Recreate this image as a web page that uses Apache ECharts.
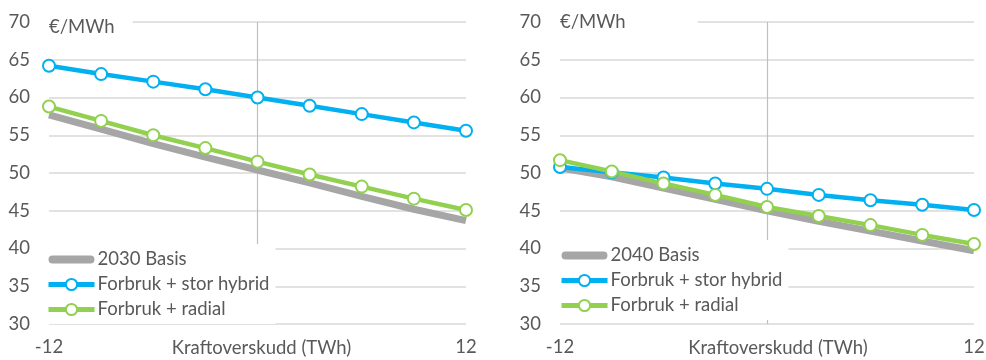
<!DOCTYPE html>
<html>
<head>
<meta charset="utf-8">
<script src="https://cdn.jsdelivr.net/npm/echarts@6/dist/echarts.min.js"></script>
<style>
  html, body { margin: 0; padding: 0; background: #fff; }
  #chart { width: 986px; height: 360px; }
</style>
</head>
<body>
<div id="chart"></div>
<script>
// Kraftoverskudd (TWh) on the x axis, price in €/MWh on the y axis
const surplus = [-12, -9, -6, -3, 0, 3, 6, 9, 12];

const basis2030 = [57.7, 55.8, 53.9, 52.1, 50.4, 48.7, 46.9, 45.2, 43.7];
const hybrid2030 = [64.2, 63.1, 62.1, 61.1, 60.0, 58.9, 57.8, 56.7, 55.6];
const radial2030 = [58.8, 56.9, 55.0, 53.3, 51.5, 49.8, 48.2, 46.6, 45.1];

const basis2040 = [50.7, 49.5, 48.0, 46.5, 45.0, 43.6, 42.3, 41.0, 39.7];
const hybrid2040 = [50.8, 50.1, 49.4, 48.6, 47.9, 47.1, 46.4, 45.8, 45.1];
const radial2040 = [51.7, 50.2, 48.6, 47.1, 45.5, 44.3, 43.1, 41.8, 40.6];

const yTicks = [30, 35, 40, 45, 50, 55, 60, 65, 70];
const xTickLabels = ['-12', '12'];
const unitLabel = '€/MWh';
const xTitle = 'Kraftoverskudd (TWh)';
const names2030 = ['2030 Basis', 'Forbruk + stor hybrid', 'Forbruk + radial'];
const names2040 = ['2040 Basis', 'Forbruk + stor hybrid', 'Forbruk + radial'];

const FONT = 'Lato';
const FS = 18.5;
const TEXT = '#595959';
const GRID = '#D9D9D9';
const GRAY = '#A6A6A6';
const BLUE = '#00B0F0';
const GREEN = '#92D050';

// thick rounded bar used as the legend key of the base-case line
const BAR_ICON = 'path://M0,0h0.01v0.01h-0.01z M0,14h0.01v0.01h-0.01z M4,3 H42 A4,4 0 0 1 42,11 H4 A4,4 0 0 1 4,3 Z';

const pairs = arr => surplus.map((x, i) => [x, arr[i]]);

function xAxisFor(idx, namePad) {
  return {
    gridIndex: idx, type: 'value', min: -12, max: 12, interval: 12,
    axisLine: { show: false }, axisTick: { show: false },
    axisLabel: {
      color: TEXT, fontFamily: FONT, fontSize: FS, margin: 14,
      formatter: v => (v === -12 ? xTickLabels[0] : v === 12 ? xTickLabels[1] : '')
    },
    splitLine: { show: true, showMinLine: false, showMaxLine: false,
                 lineStyle: { color: '#BFBFBF', width: 1.2 } },
    name: xTitle, nameLocation: 'middle', nameGap: 15, nameMoveOverlap: false,
    nameTextStyle: { color: TEXT, fontFamily: FONT, fontSize: FS, padding: namePad,
                     verticalAlign: 'top' }
  };
}

function yAxisFor(idx) {
  return {
    gridIndex: idx, type: 'value', min: yTicks[0], max: yTicks[yTicks.length - 1], interval: 5,
    axisLine: { show: false }, axisTick: { show: false },
    axisLabel: { color: TEXT, fontFamily: FONT, fontSize: FS, margin: 19 },
    splitLine: { show: true, lineStyle: { color: GRID, width: 1.5 } }
  };
}

function seriesFor(idx, names, basis, hybrid, radial) {
  const marker = color => ({
    symbol: 'circle', symbolSize: 12, showSymbol: true,
    itemStyle: { color: '#fff', borderColor: color, borderWidth: 2 }
  });
  return [
    { name: names[0], type: 'line', xAxisIndex: idx, yAxisIndex: idx,
      data: pairs(basis), symbol: 'none', silent: true,
      lineStyle: { color: GRAY, width: 7 }, itemStyle: { color: GRAY } },
    Object.assign({ name: names[1], type: 'line', xAxisIndex: idx, yAxisIndex: idx,
      data: pairs(hybrid), silent: true,
      lineStyle: { color: BLUE, width: 4.5 } }, marker(BLUE)),
    Object.assign({ name: names[2], type: 'line', xAxisIndex: idx, yAxisIndex: idx,
      data: pairs(radial), silent: true,
      lineStyle: { color: GREEN, width: 4.5 } }, marker(GREEN))
  ];
}

function legendFor(left, top, names, padRight) {
  return {
    left: left, top: top, orient: 'vertical',
    backgroundColor: '#fff', padding: [6, padRight, 5, 4],
    itemWidth: 46, itemHeight: 14, itemGap: 6,
    selectedMode: false,
    textStyle: { color: TEXT, fontFamily: FONT, fontSize: FS, padding: [0, 0, 0, -2] },
    data: [
      { name: names[0], icon: BAR_ICON, itemStyle: { color: GRAY } },
      { name: names[1], lineStyle: { width: 5, color: BLUE } },
      { name: names[2], lineStyle: { width: 5, color: GREEN } }
    ]
  };
}

const chart = echarts.init(document.getElementById('chart'), null, { renderer: 'canvas' });
chart.setOption({
  animation: false,
  backgroundColor: '#fff',
  title: [
    { text: unitLabel, left: 45, top: 16, backgroundColor: '#fff', padding: [2, 18, 2, 4],
      textStyle: { color: TEXT, fontFamily: FONT, fontSize: FS, fontWeight: 'normal' } },
    { text: unitLabel, left: 556, top: 11, backgroundColor: '#fff', padding: [2, 72, 2, 4],
      textStyle: { color: TEXT, fontFamily: FONT, fontSize: FS, fontWeight: 'normal' } }
  ],
  legend: [
    legendFor(42, 244, names2030, 6),
    legendFor(555, 240, names2040, 6)
  ],
  grid: [
    { left: 49, right: 520, top: 22, bottom: 36, outerBoundsMode: 'none' },
    { left: 560, right: 12, top: 22, bottom: 36, outerBoundsMode: 'none' }
  ],
  xAxis: [xAxisFor(0, [0, 0, 0, 8]), xAxisFor(1, [0, 0, 0, 22])],
  yAxis: [yAxisFor(0), yAxisFor(1)],
  series: [].concat(
    seriesFor(0, names2030, basis2030, hybrid2030, radial2030),
    seriesFor(1, names2040, basis2040, hybrid2040, radial2040)
  )
});
</script>
</body>
</html>
